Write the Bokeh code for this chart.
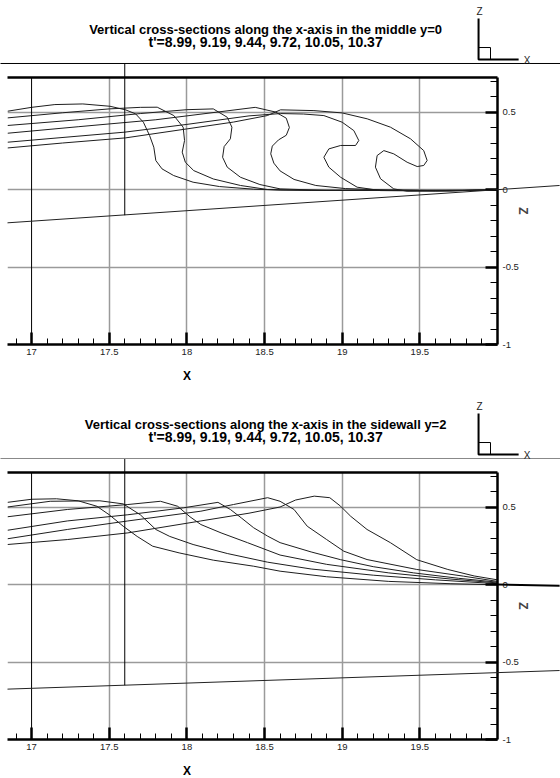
from bokeh.plotting import figure
from bokeh.models import FixedTicker, LinearAxis, Span, Range1d
from bokeh.layouts import column
from bokeh.embed import file_html
from bokeh.resources import INLINE
from bokeh.core.properties import value

FONT = "Liberation Sans"

# ---------------- axes / ticks ----------------
x_major = [17, 17.5, 18, 18.5, 19, 19.5]
x_major_labels = ["17", "17.5", "18", "18.5", "19", "19.5"]
x_minor = [16.9, 17.1, 17.2, 17.3, 17.4, 17.6, 17.7, 17.8, 17.9, 18.1, 18.2, 18.3, 18.4,
           18.6, 18.7, 18.8, 18.9, 19.1, 19.2, 19.3, 19.4, 19.6, 19.7, 19.8, 19.9]
z_major = [-1, -0.5, 0, 0.5]
z_major_labels = ["-1", "-0.5", "0", "0.5"]
z_minor = [-0.9, -0.8, -0.7, -0.6, -0.4, -0.3, -0.2, -0.1, 0.1, 0.2, 0.3, 0.4, 0.6, 0.7]
x_grid = [17.5, 18, 18.5, 19, 19.5]
z_grid = [-0.5, 0, 0.5]

# ---------------- top panel: middle y=0 ----------------
mid_x_899 = [16.845, 17.0, 17.15, 17.33, 17.505, 17.605, 17.67, 17.72, 17.76, 17.787, 17.80, 17.84, 17.915, 18.04, 18.21, 18.43, 18.6, 19.0, 19.5, 20.0]
mid_z_899 = [0.505, 0.53, 0.548, 0.552, 0.537, 0.514, 0.488, 0.434, 0.348, 0.273, 0.187, 0.133, 0.09, 0.047, 0.019, 0.002, -0.004, -0.006, -0.005, -0.004]

mid_x_919 = [16.845, 17.2, 17.5, 17.7, 17.809, 17.916, 17.976, 17.985, 17.97, 17.99, 18.044, 18.17, 18.345, 18.518, 18.8, 19.2, 19.6, 20.0]
mid_z_919 = [0.462, 0.495, 0.52, 0.53, 0.531, 0.477, 0.402, 0.316, 0.241, 0.176, 0.122, 0.068, 0.026, 0.0, -0.006, -0.004, -0.007, -0.004]

mid_x_944 = [16.845, 17.3, 17.7, 18.0, 18.17, 18.26, 18.29, 18.28, 18.24, 18.23, 18.26, 18.345, 18.47, 18.6, 18.9, 19.3, 19.7, 20.0]
mid_z_944 = [0.413, 0.45, 0.49, 0.515, 0.52, 0.466, 0.402, 0.327, 0.277, 0.208, 0.144, 0.079, 0.032, 0.004, -0.006, -0.005, -0.008, -0.003]

mid_x_972 = [16.845, 17.3, 17.8, 18.2, 18.44, 18.57, 18.64, 18.66, 18.64, 18.59, 18.55, 18.54, 18.56, 18.60, 18.69, 18.83, 19.02, 19.3, 19.7, 20.0]
mid_z_972 = [0.363, 0.405, 0.45, 0.50, 0.53, 0.50, 0.46, 0.40, 0.35, 0.32, 0.28, 0.23, 0.17, 0.12, 0.065, 0.026, 0.006, -0.004, -0.008, -0.002]

mid_x_1005 = [16.845, 17.6, 18.0, 18.4, 18.603, 18.75, 18.882, 19.0, 19.075, 19.107, 19.086, 18.99, 18.914, 18.882, 18.914, 18.99, 19.096, 19.247, 19.6, 20.0]
mid_z_1005 = [0.305, 0.37, 0.42, 0.475, 0.49, 0.487, 0.477, 0.434, 0.38, 0.316, 0.284, 0.284, 0.262, 0.208, 0.144, 0.079, 0.015, -0.007, -0.01, -0.003]

mid_x_1037 = [16.845, 17.2, 17.605, 18.0, 18.3, 18.518, 18.603, 18.818, 19.0, 19.161, 19.311, 19.44, 19.525, 19.547, 19.525, 19.483, 19.418, 19.332, 19.268, 19.225, 19.214, 19.247, 19.332, 19.418, 19.7, 20.0]
mid_z_1037 = [0.268, 0.30, 0.333, 0.391, 0.435, 0.477, 0.514, 0.509, 0.494, 0.456, 0.402, 0.327, 0.251, 0.187, 0.155, 0.148, 0.176, 0.23, 0.251, 0.219, 0.144, 0.069, 0.004, -0.011, -0.008, -0.002]

mid_bed_x = [16.845, 20.4]
mid_bed_z = [-0.215, 0.026]
mid_wall_x = [17.6, 17.6]
mid_wall_z = [-0.166, 0.813]

# ---------------- bottom panel: sidewall y=2 ----------------
side_x_899 = [16.845, 17.0, 17.16, 17.3, 17.42, 17.5, 17.59, 17.68, 17.78, 17.95, 18.17, 18.43, 18.6, 18.9, 19.3, 19.7, 20.0]
side_z_899 = [0.53, 0.55, 0.553, 0.54, 0.505, 0.45, 0.376, 0.31, 0.247, 0.204, 0.157, 0.118, 0.086, 0.05, 0.02, 0.005, -0.002]

side_x_919 = [16.845, 17.12, 17.44, 17.59, 17.70, 17.80, 17.89, 18.04, 18.26, 18.52, 18.8, 19.2, 19.6, 20.0]
side_z_919 = [0.50, 0.537, 0.54, 0.52, 0.45, 0.355, 0.31, 0.258, 0.20, 0.144, 0.10, 0.06, 0.03, 0.005]

side_x_944 = [16.845, 17.23, 17.62, 17.83, 17.94, 18.02, 18.09, 18.22, 18.39, 18.6, 18.9, 19.3, 19.7, 20.0]
side_z_944 = [0.437, 0.484, 0.516, 0.537, 0.505, 0.437, 0.387, 0.333, 0.27, 0.19, 0.13, 0.075, 0.035, 0.01]

side_x_972 = [16.845, 17.23, 17.62, 17.98, 18.2, 18.28, 18.35, 18.43, 18.52, 18.6, 18.8, 18.99, 19.2, 19.46, 19.75, 20.0]
side_z_972 = [0.35, 0.41, 0.45, 0.495, 0.53, 0.484, 0.43, 0.366, 0.312, 0.27, 0.21, 0.16, 0.115, 0.075, 0.04, 0.015]

side_x_1005 = [16.845, 17.23, 17.62, 18.09, 18.3, 18.52, 18.6, 18.69, 18.775, 18.9, 19.01, 19.16, 19.48, 19.78, 20.0]
side_z_1005 = [0.295, 0.355, 0.41, 0.473, 0.516, 0.56, 0.537, 0.484, 0.376, 0.29, 0.215, 0.161, 0.097, 0.054, 0.02]

side_x_1037 = [16.845, 17.23, 17.62, 18.09, 18.4, 18.6, 18.7, 18.82, 18.92, 18.99, 19.055, 19.16, 19.31, 19.48, 19.68, 19.85, 20.0]
side_z_1037 = [0.258, 0.29, 0.333, 0.41, 0.46, 0.50, 0.545, 0.57, 0.56, 0.505, 0.44, 0.355, 0.27, 0.16, 0.097, 0.055, 0.03]

side_bed_x = [16.845, 20.4]
side_bed_z = [-0.675, -0.555]
side_wall_x = [17.6, 17.6]
side_wall_z = [-0.65, 0.813]
side_surf_x = [20.0, 20.4]
side_surf_z = [0.0, -0.008]

title_mid = "Vertical cross-sections along the x-axis in the middle y=0"
title_side = "Vertical cross-sections along the x-axis in the sidewall y=2"
title_times = "t'=8.99, 9.19, 9.44, 9.72, 10.05, 10.37"

X_START, X_END = 16.845, 20.0
Z_START, Z_END = -1.0, 0.7226
TOP_LINE_Z = 0.813


def make_panel(title1, curves, height, bottom_border, top_line_color, bed, wall, surf=None):
    p = figure(width=560, height=height,
               x_range=Range1d(X_START, X_END), y_range=Range1d(Z_START, Z_END),
               output_backend="svg", toolbar_location=None,
               x_axis_location="below", y_axis_location="right",
               min_border_left=7, min_border_right=63, min_border_top=77,
               min_border_bottom=bottom_border)
    p.outline_line_color = None
    p.background_fill_color = "white"
    p.border_fill_color = "white"

    xa = p.xaxis[0]
    xa.ticker = FixedTicker(ticks=x_major, minor_ticks=x_minor)
    xa.major_label_overrides = {t: l for t, l in zip(x_major, x_major_labels)}
    xa.axis_line_width = 2.5
    xa.axis_line_color = "black"
    xa.major_tick_in = 12
    xa.major_tick_out = 0
    xa.minor_tick_in = 6
    xa.minor_tick_out = 0
    xa.major_tick_line_width = 2.5
    xa.minor_tick_line_width = 1
    xa.major_label_standoff = 4
    xa.major_label_text_font = FONT
    xa.major_label_text_font_size = "9.5px"
    xa.major_label_text_color = "#222222"

    ya = p.yaxis[0]
    ya.ticker = FixedTicker(ticks=z_major, minor_ticks=z_minor)
    ya.major_label_overrides = {t: l for t, l in zip(z_major, z_major_labels)}
    ya.axis_line_width = 2.5
    ya.axis_line_color = "black"
    ya.major_tick_in = 12
    ya.major_tick_out = 0
    ya.minor_tick_in = 7
    ya.minor_tick_out = 0
    ya.major_tick_line_width = 2.5
    ya.minor_tick_line_width = 1
    ya.major_label_standoff = 5
    ya.major_label_text_font = FONT
    ya.major_label_text_font_size = "9.5px"
    ya.major_label_text_color = "#222222"
    ya.major_label_orientation = "horizontal"
    ya.axis_label = "Z"
    ya.axis_label_text_font = FONT
    ya.axis_label_text_font_style = "bold"
    ya.axis_label_text_font_size = "12px"
    ya.axis_label_standoff = -6

    top = LinearAxis(ticker=FixedTicker(ticks=[], minor_ticks=[]), axis_line_width=2.5,
                     axis_line_color="black", major_tick_in=0, major_tick_out=0,
                     minor_tick_in=0, minor_tick_out=0)
    p.add_layout(top, "above")

    p.xgrid.ticker = FixedTicker(ticks=x_grid)
    p.ygrid.ticker = FixedTicker(ticks=z_grid)
    for g in (p.xgrid[0], p.ygrid[0]):
        g.grid_line_color = "#9a9a9a"
        g.grid_line_width = 1.5
    p.add_layout(Span(location=17, dimension="height", line_color="black", line_width=1))

    for xs, zs in curves:
        p.line(xs, zs, line_color="#1e1e1e", line_width=1)

    # tank geometry, drawn on the overlay level so it may run past the frame
    p.line(bed[0], bed[1], line_color="#222222", line_width=1, level="overlay")
    p.line(wall[0], wall[1], line_color="black", line_width=1, level="overlay")
    p.line([16.8, 20.406], [TOP_LINE_Z, TOP_LINE_Z], line_color=top_line_color,
           line_width=1, level="overlay")
    if surf is not None:
        p.line(surf[0], surf[1], line_color="black", line_width=2, level="overlay")

    # axis triad
    p.line([19.878, 19.878, 20.136], [1.103, 0.839, 0.839], line_color="black",
           line_width=2, level="overlay")
    p.line([19.878, 19.955, 19.955], [0.916, 0.916, 0.839], line_color="black",
           line_width=1, level="overlay")

    # titles and labels as overlay-level text glyphs
    p.text(x=[18.507], y=[1.035], text=[title1],
           text_font=value(FONT), text_font_style="bold", text_font_size="13px",
           text_align="center", text_baseline="middle", text_color="black", level="overlay")
    p.text(x=[18.507], y=[0.951], text=[title_times],
           text_font=value(FONT), text_font_style="bold", text_font_size="14px",
           text_align="center", text_baseline="middle", text_color="black", level="overlay")
    p.text(x=[18.0], y=[-1.205], text=["X"], text_font=value(FONT), text_font_style="bold",
           text_font_size="12px", text_align="center", text_baseline="middle",
           text_color="black", level="overlay")
    p.text(x=[19.885, 20.19], y=[1.148, 0.832], text=["Z", "X"], text_font=value(FONT),
           text_font_size="10px", text_align="center", text_baseline="middle",
           text_color="#222222", level="overlay")
    return p


p1 = make_panel(title_mid, [(mid_x_899, mid_z_899), (mid_x_919, mid_z_919), (mid_x_944, mid_z_944),
                            (mid_x_972, mid_z_972), (mid_x_1005, mid_z_1005), (mid_x_1037, mid_z_1037)],
                395, 51, "black", (mid_bed_x, mid_bed_z), (mid_wall_x, mid_wall_z))
p2 = make_panel(title_side, [(side_x_899, side_z_899), (side_x_919, side_z_919), (side_x_944, side_z_944),
                             (side_x_972, side_z_972), (side_x_1005, side_z_1005), (side_x_1037, side_z_1037)],
                383, 39, "#888888", (side_bed_x, side_bed_z), (side_wall_x, side_wall_z),
                (side_surf_x, side_surf_z))

layout = column(p1, p2)
open("out.html", "w").write(file_html(layout, INLINE))
